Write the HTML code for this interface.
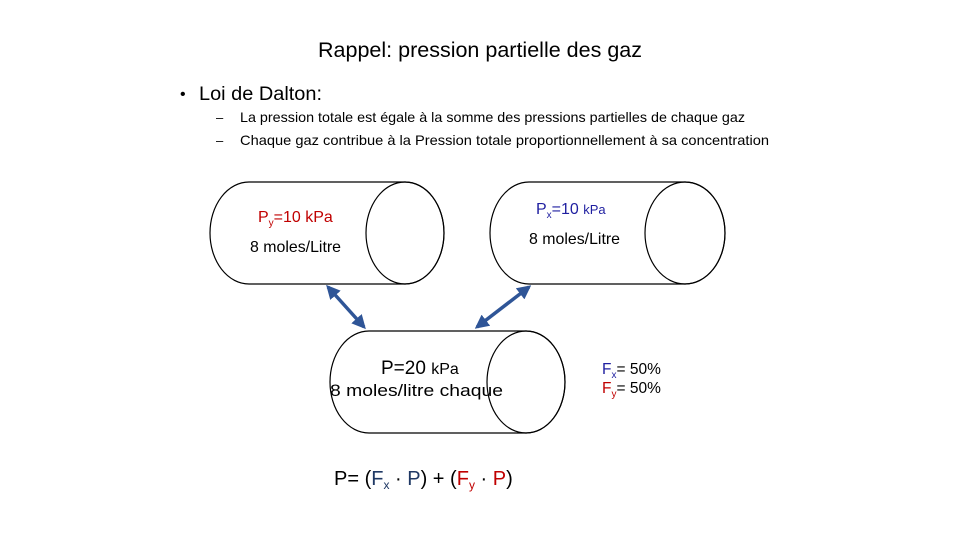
<!DOCTYPE html>
<html><head><meta charset="utf-8"><style>
body{margin:0;background:#fff}
svg{display:block}
text{font-family:"Liberation Sans",sans-serif}
</style></head><body>
<svg width="960" height="540" viewBox="0 0 960 540">
<defs>
<marker id="ah" viewBox="0 0 10 10" refX="8" refY="5" markerWidth="4" markerHeight="4" orient="auto-start-reverse"><path d="M0,0 L10,5 L0,10 z" fill="#2F5597"/></marker>
</defs>
<text x="318" y="57" font-size="21" textLength="324" lengthAdjust="spacingAndGlyphs" fill="#000">Rappel: pression partielle des gaz</text>
<text x="180" y="99" font-size="16">•</text>
<text x="199" y="100" font-size="19" textLength="123" lengthAdjust="spacingAndGlyphs">Loi de Dalton:</text>
<text x="216" y="122" font-size="13">–</text>
<text x="240" y="122" font-size="14" textLength="505" lengthAdjust="spacingAndGlyphs">La pression totale est égale à la somme des pressions partielles de chaque gaz</text>
<text x="216" y="145" font-size="13">–</text>
<text x="240" y="145" font-size="14" textLength="529" lengthAdjust="spacingAndGlyphs">Chaque gaz contribue  à la Pression totale proportionnellement  à sa concentration</text>

<g fill="none" stroke="#000" stroke-width="1.2">
<path d="M249,182 L405,182 A39,51 0 0 1 405,284 L249,284 A39,51 0 0 1 249,182 Z" fill="#fff"/>
<ellipse cx="405" cy="233" rx="39" ry="51"/>
</g>
<text x="258" y="222" font-size="16" fill="#C00000">P<tspan font-size="10" dy="4">y</tspan><tspan dy="-4">=10 kPa</tspan></text>
<text x="250" y="252" font-size="16" textLength="91" lengthAdjust="spacingAndGlyphs">8 moles/Litre</text>

<g fill="none" stroke="#000" stroke-width="1.2">
<path d="M529,182 L685,182 A40,51 0 0 1 685,284 L529,284 A39,51 0 0 1 529,182 Z" fill="#fff"/>
<ellipse cx="685" cy="233" rx="40" ry="51"/>
</g>
<text x="536" y="214" font-size="16" fill="#1F1FA0">P<tspan font-size="10" dy="4">x</tspan><tspan dy="-4">=10 </tspan><tspan font-size="13">kPa</tspan></text>
<text x="529" y="244" font-size="16" textLength="91" lengthAdjust="spacingAndGlyphs">8 moles/Litre</text>

<g fill="none" stroke="#000" stroke-width="1.2">
<path d="M369,331 L526,331 A39,51 0 0 1 526,433 L369,433 A39,51 0 0 1 369,331 Z" fill="#fff"/>
<ellipse cx="526" cy="382" rx="39" ry="51"/>
</g>
<text x="381" y="374" font-size="19">P=20 <tspan font-size="16">kPa</tspan></text>
<text x="330" y="396" font-size="17" textLength="173" lengthAdjust="spacingAndGlyphs">8 moles/litre chaque</text>

<line x1="328" y1="287" x2="364" y2="327" stroke="#2F5597" stroke-width="3.5" marker-start="url(#ah)" marker-end="url(#ah)"/>
<line x1="529" y1="287" x2="477" y2="327" stroke="#2F5597" stroke-width="3.5" marker-start="url(#ah)" marker-end="url(#ah)"/>

<text x="602" y="374" font-size="15.5"><tspan fill="#1F1FA0">F</tspan><tspan fill="#1F1FA0" font-size="10" dy="4">x</tspan><tspan dy="-4">= 50%</tspan></text>
<text x="602" y="393" font-size="15.5"><tspan fill="#C00000">F</tspan><tspan fill="#C00000" font-size="10" dy="4">y</tspan><tspan dy="-4">= 50%</tspan></text>

<text x="334" y="485" font-size="20">P= (<tspan fill="#1F3864">F</tspan><tspan fill="#1F3864" font-size="12" dy="4">x</tspan><tspan dy="-4"> · </tspan><tspan fill="#1F3864">P</tspan>) + (<tspan fill="#C00000">F</tspan><tspan fill="#C00000" font-size="12" dy="4">y</tspan><tspan dy="-4">  · </tspan><tspan fill="#C00000">P</tspan>)</text>
</svg>
</body></html>
